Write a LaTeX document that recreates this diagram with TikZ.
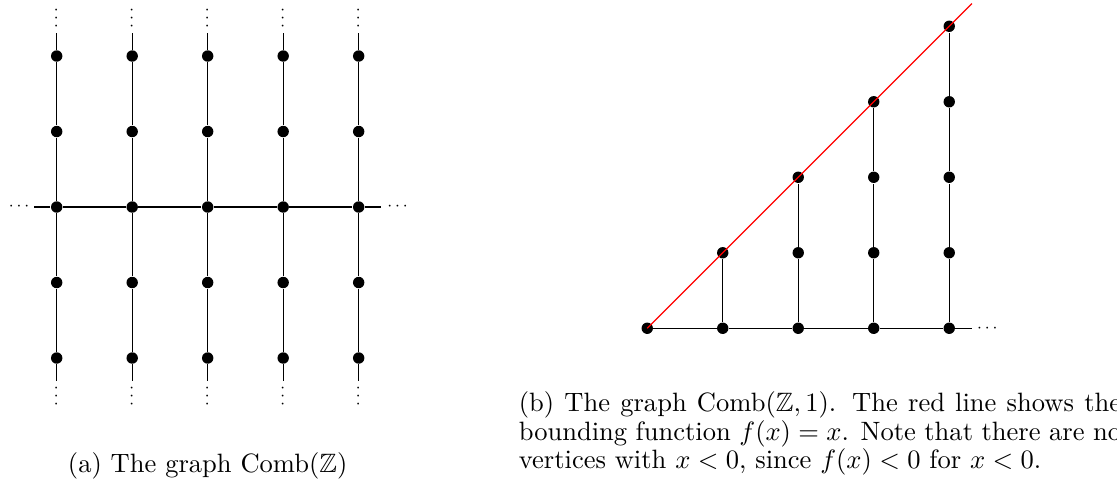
\documentclass[tikz,border=0pt]{standalone}
\usepackage{amssymb}
\begin{document}
\begin{tikzpicture}[
  vtx/.style={circle,fill=black,inner sep=0pt,minimum size=0.151cm},
  seg/.style={line width=0.5pt},
  bndline/.style={red,line width=0.5pt},
  ellip/.style={inner sep=0pt,scale=0.66},
  captxt/.style={inner sep=0pt,font=\fontsize{10}{10.7}\selectfont}
]
\useasboundingbox (0,0) rectangle (14.795,-6.477);
% ---------- (a) Comb(Z) ----------
\foreach \i in {0,...,4}{
  \foreach \j in {0,...,4}{
    \node[vtx] (L-\i-\j) at ({0.751+\i},{-0.742-\j}) {};
  }
  \coordinate (Ltop-\i) at ({0.751+\i},-0.442);
  \coordinate (Lbot-\i) at ({0.751+\i},-5.042);
  \node[ellip,rotate=90] (Lvt-\i) at ({0.751+\i},-0.238) {$\cdots$};
  \node[ellip,rotate=90] (Lvb-\i) at ({0.751+\i},-5.245) {$\cdots$};
  \draw[seg] (Ltop-\i) -- (L-\i-0);
  \draw[seg] (L-\i-4) -- (Lbot-\i);
}
\foreach \i in {0,...,4}{
  \foreach \j [count=\k] in {0,...,3}{
    \draw[seg] (L-\i-\j) -- (L-\i-\k);
  }
}
\foreach \i [count=\k] in {0,...,3}{
  \draw[seg] (L-\i-2) -- (L-\k-2);
}
\coordinate (Lleft) at (0.451,-2.742);
\coordinate (Lright) at (5.051,-2.742);
\draw[seg] (Lleft) -- (L-0-2);
\draw[seg] (L-4-2) -- (Lright);
\node[ellip] (Lhl) at (0.252,-2.742) {$\cdots$};
\node[ellip] (Lhr) at (5.267,-2.742) {$\cdots$};
\node[captxt,anchor=base] (capa) at (2.751,-6.265) {(a) The graph $\mathrm{Comb}(\mathbb{Z})$};
% ---------- (b) Comb(Z,1) ----------
\foreach \i in {0,...,4}{
  \foreach \j in {0,...,\i}{
    \node[vtx] (R-\i-\j) at ({8.573+\i},{-4.348+\j}) {};
  }
}
\foreach \i [count=\k] in {0,...,3}{
  \draw[seg] (R-\i-0) -- (R-\k-0);
}
\foreach \i in {1,...,4}{
  \foreach \j [count=\k from 1] in {0,...,\numexpr\i-1\relax}{
    \draw[seg] (R-\i-\j) -- (R-\i-\k);
  }
}
\coordinate (Rend) at (12.873,-4.348);
\draw[seg] (R-4-0) -- (Rend);
\node[ellip] (Rhr) at (13.077,-4.348) {$\cdots$};
\coordinate (Rredend) at (12.873,-0.048);
\draw[bndline] (R-0-0.center) -- (Rredend);
\node[captxt,anchor=base west] (capb) at (6.865,-5.453) {\parbox[t]{227pt}{(b) The graph $\mathrm{Comb}(\mathbb{Z},1)$. The red line shows the\linebreak bounding function $f(x)=x$. Note that there are no\linebreak vertices with $x<0$, since $f(x)<0$ for $x<0$.}};
\end{tikzpicture}
\end{document}
